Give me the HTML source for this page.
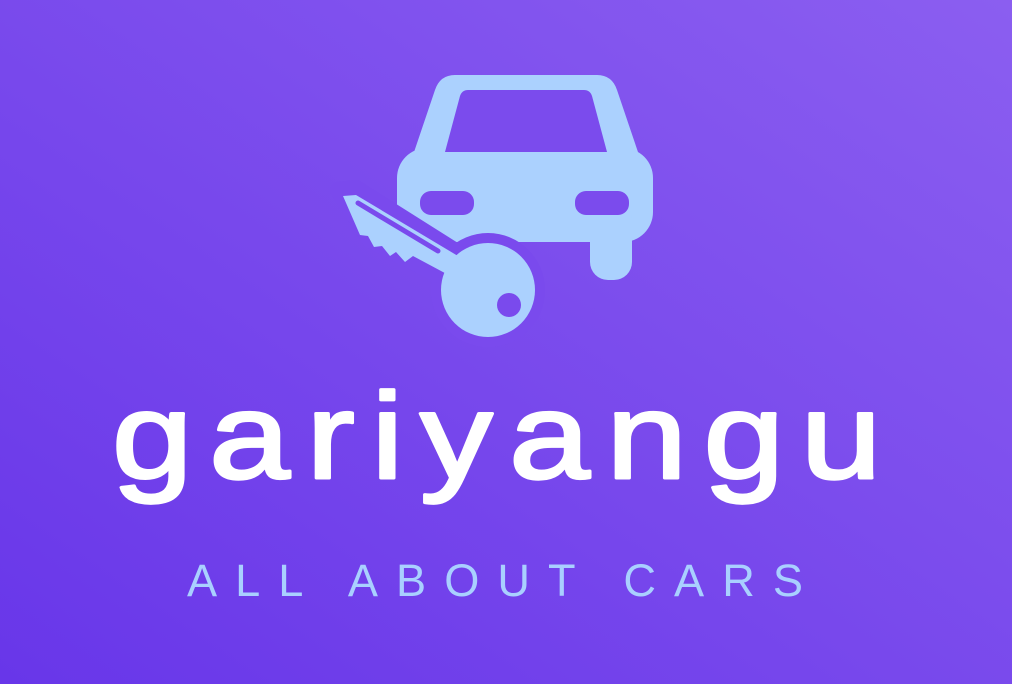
<!DOCTYPE html>
<html><head><meta charset="utf-8">
<style>
html,body{margin:0;padding:0;width:1012px;height:684px;overflow:hidden}
svg{display:block}
</style></head>
<body>
<svg width="1012" height="684" viewBox="0 0 1012 684" xmlns="http://www.w3.org/2000/svg">
  <defs>
    <linearGradient id="bg" x1="0" y1="1" x2="1" y2="0">
      <stop offset="0" stop-color="#6836e9"/>
      <stop offset="1" stop-color="#8b5ef0"/>
    </linearGradient>
  </defs>
  <rect width="1012" height="684" fill="url(#bg)"/>
  <g fill="#abd1fe">
    <path d="M455 75 L597 75 Q612 75 617 90 L640 158 L412 158 L435 90 Q440 75 455 75 Z"/>
    <rect x="397" y="148" width="256" height="94" rx="30"/>
    <rect x="590" y="200" width="42" height="80" rx="18"/>
    <path d="M468 90 L584 90 Q590 90 592 96 L607 152 L445 152 L460 96 Q462 90 468 90 Z" fill="#7b4bed"/>
    <rect x="420" y="191" width="54" height="24" rx="11" fill="#7b4bed"/>
    <rect x="575" y="191" width="54" height="24" rx="11" fill="#7b4bed"/>
  </g>
  <g>
    <circle cx="488" cy="290" r="57" fill="#7a4aed"/>
    <path d="M338 190 L356 188 L470 260 L455 283 L370 240 Z" fill="#7a4aed" stroke="#7a4aed" stroke-width="16" stroke-linejoin="round"/>
    <path d="M343 196 L356 195 L468 262 L456 279 L413 256 L405 262 L396 252 L390 256 L382 246 L374 247 L368 236 L360 235 Z" fill="#abd1fe"/>
    <path d="M358 203 L438 251" stroke="#7a4aed" stroke-width="5" stroke-linecap="round"/>
    <circle cx="488" cy="290" r="47" fill="#abd1fe"/>
    <circle cx="509" cy="305" r="12" fill="#7a4aed"/>
  </g>
  <text x="112" y="478" textLength="786" lengthAdjust="spacingAndGlyphs" letter-spacing="14" font-family="'Liberation Sans', sans-serif" font-size="122" fill="#ffffff" stroke="#ffffff" stroke-width="3" stroke-linejoin="round">gariyangu</text>
  <text x="187" y="596" textLength="634" lengthAdjust="spacingAndGlyphs" letter-spacing="18" font-family="'Liberation Sans', sans-serif" font-size="45" fill="#a9d0ff">ALL ABOUT CARS</text>
</svg>
</body></html>
